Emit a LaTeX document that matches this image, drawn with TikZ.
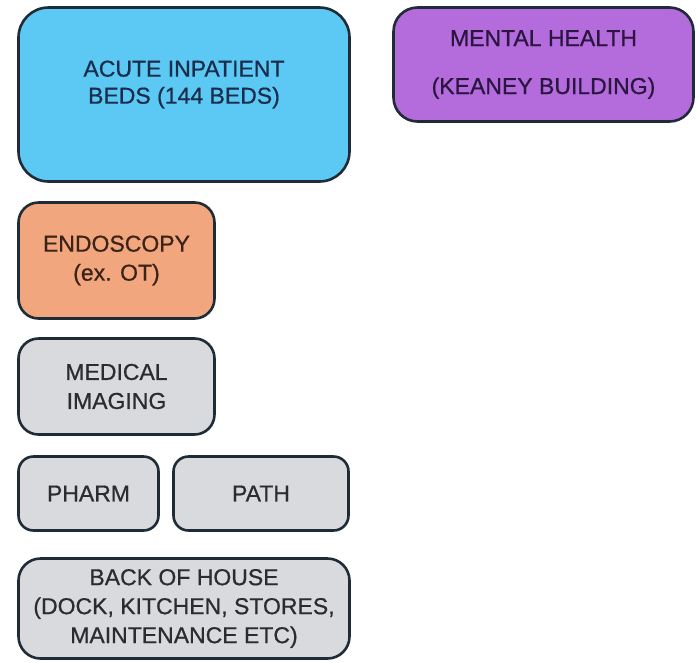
\documentclass[tikz,border=0pt]{standalone}
\usepackage{fontspec}
\setmainfont{Liberation Sans}[UprightFeatures={FakeBold=0.7}]
\definecolor{edge}{HTML}{1F2C38}
\definecolor{acutefill}{HTML}{5CC8F4}
\definecolor{acuteink}{HTML}{1B2D4C}
\definecolor{mentalfill}{HTML}{B46BDC}
\definecolor{mentalink}{HTML}{2A1640}
\definecolor{endofill}{HTML}{F1A67E}
\definecolor{endoink}{HTML}{3A2418}
\definecolor{servfill}{HTML}{D9DADD}
\definecolor{servink}{HTML}{2A2C2E}
\tikzset{
  zone/.style={draw=edge,line width=2.6pt,rounded corners=#1,inner sep=0pt,
    align=center,font=\fontsize{23}{29}\selectfont},
  zone/.default=18pt,
  service/.style={zone=#1,fill=servfill,text=servink},
  service/.default=18pt
}
\begin{document}
\begin{tikzpicture}[x=1pt,y=-1pt]
  \useasboundingbox (0,0) rectangle (698,662);

  % acute block, text sits above the middle
  \node[zone=30pt,fill=acutefill,minimum width=331pt,minimum height=174pt] (acute) at (184,94.5) {};
  \node[align=center,text=acuteink,font=\fontsize{23}{27}\selectfont] (acutetext)
    at ([yshift=10pt]acute.center) {ACUTE INPATIENT\\BEDS (144 BEDS)};

  \node[zone=24pt,fill=mentalfill,text=mentalink,minimum width=300pt,minimum height=114pt] (mental)
    at (543.5,64.5) {MENTAL HEALTH\\[19pt](KEANEY BUILDING)};

  \node[zone=20pt,fill=endofill,text=endoink,minimum width=196pt,minimum height=116pt] (endo)
    at (116.5,260.5) {ENDOSCOPY\\(ex. OT)};

  \node[service=20pt,minimum width=196pt,minimum height=96pt] (imaging)
    at (116.5,386.5) {MEDICAL\\IMAGING};

  \node[service=15pt,minimum width=140pt,minimum height=74pt] (pharm) at (88.5,493.5) {PHARM};
  \node[service=15pt,minimum width=175pt,minimum height=74pt] (path) at (261,493.5) {PATH};

  \node[service=22pt,minimum width=331pt,minimum height=100pt] (boh)
    at (184,608.5) {BACK OF HOUSE\\(DOCK, KITCHEN, STORES,\\MAINTENANCE ETC)};
\end{tikzpicture}
\end{document}
